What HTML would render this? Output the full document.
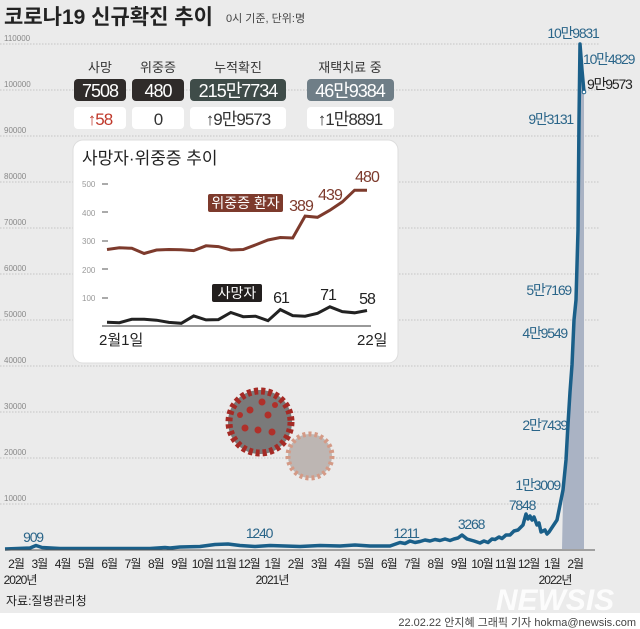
<!DOCTYPE html>
<html><head><meta charset="utf-8"><style>
body{margin:0;width:640px;height:629px;overflow:hidden;background:#ebebeb;font-family:"Liberation Sans","Noto Sans CJK KR",sans-serif}
svg{display:block}
</style></head><body>
<svg width="640" height="629" viewBox="0 0 640 629" font-family="Liberation Sans, Noto Sans CJK KR, sans-serif">
<rect width="640" height="629" fill="#ebebeb"/>
<rect y="613" width="640" height="16" fill="#fff"/>
<g stroke="#b8b8b8" stroke-dasharray="1.5,1.5" stroke-width="0.8">
<line x1="0" x2="600" y1="44" y2="44"/><line x1="0" x2="600" y1="90" y2="90"/><line x1="0" x2="600" y1="136" y2="136"/>
<line x1="0" x2="600" y1="182" y2="182"/><line x1="0" x2="600" y1="228" y2="228"/><line x1="0" x2="600" y1="274" y2="274"/>
<line x1="0" x2="600" y1="320" y2="320"/><line x1="0" x2="600" y1="366" y2="366"/><line x1="0" x2="600" y1="412" y2="412"/>
<line x1="0" x2="600" y1="458" y2="458"/><line x1="0" x2="600" y1="504" y2="504"/>
</g>
<g font-size="8" fill="#888">
<text x="4" y="41">110000</text><text x="4" y="87">100000</text><text x="4" y="133">90000</text><text x="4" y="179">80000</text>
<text x="4" y="225">70000</text><text x="4" y="271">60000</text><text x="4" y="317">50000</text><text x="4" y="363">40000</text>
<text x="4" y="409">30000</text><text x="4" y="455">20000</text><text x="4" y="501">10000</text>
</g>
<text x="4" y="24" font-size="21" font-weight="bold" fill="#222">코로나19 신규확진 추이</text>
<text x="226" y="22" font-size="11" fill="#444">0시 기준, 단위:명</text>
<g font-size="13" fill="#333" text-anchor="middle">
<text x="100" y="72">사망</text><text x="158" y="72">위중증</text><text x="238" y="72">누적확진</text><text x="350" y="72">재택치료 중</text>
</g>
<rect x="74" y="79" width="52" height="22" rx="4" fill="#2f2b2a"/>
<rect x="132" y="79" width="52" height="22" rx="4" fill="#2f2b2a"/>
<rect x="190" y="79" width="96" height="22" rx="4" fill="#3f4c49"/>
<rect x="307" y="79" width="87" height="22" rx="4" fill="#6f7e87"/>
<rect x="74" y="107" width="52" height="22" rx="4" fill="#fff"/>
<rect x="132" y="107" width="52" height="22" rx="4" fill="#fff"/>
<rect x="190" y="107" width="96" height="22" rx="4" fill="#fff"/>
<rect x="307" y="107" width="87" height="22" rx="4" fill="#fff"/>
<g font-size="18" fill="#fff" text-anchor="middle" letter-spacing="-1">
<text x="100" y="97">7508</text><text x="158" y="97">480</text><text x="238" y="97">215만7734</text><text x="350" y="97">46만9384</text>
</g>
<g font-size="17" text-anchor="middle" letter-spacing="-1">
<text x="100" y="125" fill="#c0392b">↑58</text><text x="158" y="125" fill="#333">0</text><text x="238" y="125" fill="#333">↑9만9573</text><text x="350" y="125" fill="#333">↑1만8891</text>
</g>
<rect x="73" y="140" width="325" height="223" rx="10" fill="#fff" stroke="#ddd"/>
<text x="82" y="164" font-size="17" fill="#222">사망자·위중증 추이</text>
<g font-size="8" fill="#999"><text x="82" y="187">500</text><text x="82" y="216">400</text><text x="82" y="244">300</text><text x="82" y="273">200</text><text x="82" y="301">100</text></g>
<g stroke="#555" stroke-width="1"><line x1="102" x2="108" y1="184" y2="184"/><line x1="102" x2="108" y1="212" y2="212"/><line x1="102" x2="108" y1="241" y2="241"/><line x1="102" x2="108" y1="269" y2="269"/><line x1="102" x2="108" y1="298" y2="298"/></g>
<line x1="102" x2="371" y1="326" y2="326" stroke="#333" stroke-width="1"/>
<polyline fill="none" stroke="#7d3a2c" stroke-width="3" points="107,249.5 119.4,247.8 131.8,248.3 144.1,253.5 156.5,250 168.9,249.5 181.3,249.8 193.7,250.6 206,245.8 218.4,246.6 230.8,250 243.2,249.5 255.6,244.9 268,240 280.3,237.5 292.7,238 305.1,216.1 317.5,217.3 329.9,210.2 342.3,201.9 354.6,190.2 367,190.2"/>
<polyline fill="none" stroke="#222" stroke-width="3" points="107,322.2 119.4,322.7 131.8,319.3 144.1,319.3 156.5,320.2 168.9,322.4 181.3,323.3 193.7,315.9 206,319.9 218.4,319.6 230.8,312.5 243.2,316.7 255.6,316.2 268,320.7 280.3,309.6 292.7,315.6 305.1,316.2 317.5,313.3 329.9,306.8 342.3,311.6 354.6,312.8 367,310.5"/>
<rect x="208" y="194" width="75" height="18" rx="2" fill="#7d3a2c"/>
<text x="245.5" y="208" font-size="14" fill="#fff" text-anchor="middle">위중증 환자</text>
<rect x="212" y="284" width="50" height="18" rx="2" fill="#231f1e"/>
<text x="237" y="298" font-size="14" fill="#fff" text-anchor="middle">사망자</text>
<g font-size="16" fill="#7d3a2c" text-anchor="middle" letter-spacing="-1"><text x="301" y="211">389</text><text x="330" y="200">439</text><text x="367" y="182">480</text></g>
<g font-size="16" fill="#222" text-anchor="middle" letter-spacing="-1"><text x="281" y="303">61</text><text x="328" y="300">71</text><text x="367" y="304">58</text></g>
<text x="99" y="345" font-size="15" fill="#222">2월1일</text>
<text x="357" y="345" font-size="15" fill="#222">22일</text>
<circle cx="260" cy="422" r="32" fill="#7a7a7a"/>
<circle cx="260" cy="422" r="31" fill="none" stroke="#a52a25" stroke-width="7" stroke-dasharray="4,3"/>
<g fill="#b0302a"><circle cx="250" cy="410" r="3.5"/><circle cx="268" cy="415" r="3.5"/><circle cx="258" cy="430" r="3.5"/><circle cx="245" cy="428" r="3.5"/><circle cx="272" cy="432" r="3.5"/><circle cx="262" cy="402" r="3.5"/><circle cx="240" cy="415" r="3"/><circle cx="275" cy="405" r="3"/></g>
<circle cx="310" cy="456" r="22" fill="#bdb6b3"/>
<circle cx="310" cy="456" r="22" fill="none" stroke="#d49a86" stroke-width="5" stroke-dasharray="3,3"/>
<path d="M562,549 L563,500 L566,460 L568,424 L570,392 L572,365 L574,320 L576,300 L578,230 L579,120 L580,44 L582,70 L584,92 L584,549 Z" fill="#aab3c4"/>
<polyline fill="none" stroke="#1a5f89" stroke-width="3.5" stroke-linejoin="round" points="5,549 30,548 36,545.5 42,547.5 60,548.5 100,548.5 150,548.5 165,547.5 170,548 180,547 200,546.5 215,544.5 228,544 240,545.5 255,546.5 270,545.5 300,546.5 320,545.5 340,546 355,545 370,546 390,546 400,542.5 405,543.5 410,541 415,542.5 420,541.5 425,540 430,541 435,539.5 440,540.5 445,539 450,540.5 454,539 458,538 462,535 467,539 474,541 480,543 484,541 488,542.5 492,539 495,539.5 499,537 502,538.5 506,535 510,535 514,531 518,530 521,527 523,525 526,514 528,519 530,516 532,520 534,517 537,525 539,523 541,532 545,530 547,534 549,532 553,526 557,520 560,505 563,490 566,460 568,424 570,392 572,365 574,320 576,300 578,230 579,120 580,44 582,70 584,92"/>
<circle cx="584" cy="92" r="1.8" fill="#fff" stroke="#1a5f89"/>
<line x1="5" x2="595" y1="550" y2="550" stroke="#555" stroke-width="1"/>
<g font-size="14" fill="#2a6589" letter-spacing="-1.2">
<text x="573" y="38" text-anchor="middle">10만9831</text>
<text x="583" y="64">10만4829</text>
<text x="587" y="89" fill="#222">9만9573</text>
<text x="573" y="124" text-anchor="end">9만3131</text>
<text x="571" y="295" text-anchor="end">5만7169</text>
<text x="567" y="338" text-anchor="end">4만9549</text>
<text x="567" y="430" text-anchor="end">2만7439</text>
<text x="560" y="490" text-anchor="end">1만3009</text>
<text x="522" y="510" text-anchor="middle">7848</text>
<text x="471" y="529" text-anchor="middle">3268</text>
<text x="406" y="538" text-anchor="middle">1211</text>
<text x="259" y="538" text-anchor="middle">1240</text>
<text x="33" y="542" text-anchor="middle">909</text>
</g>
<g font-size="12" fill="#222" text-anchor="middle" letter-spacing="-1">
<text x="16" y="568">2월</text><text x="39.3" y="568">3월</text><text x="62.6" y="568">4월</text><text x="85.9" y="568">5월</text><text x="109.2" y="568">6월</text><text x="132.5" y="568">7월</text><text x="155.8" y="568">8월</text><text x="179.1" y="568">9월</text><text x="202.4" y="568">10월</text><text x="225.7" y="568">11월</text><text x="249" y="568">12월</text><text x="272.3" y="568">1월</text><text x="295.6" y="568">2월</text><text x="318.9" y="568">3월</text><text x="342.2" y="568">4월</text><text x="365.5" y="568">5월</text><text x="388.8" y="568">6월</text><text x="412.1" y="568">7월</text><text x="435.4" y="568">8월</text><text x="458.7" y="568">9월</text><text x="482" y="568">10월</text><text x="505.3" y="568">11월</text><text x="528.6" y="568">12월</text><text x="551.9" y="568">1월</text><text x="575.2" y="568">2월</text>
<text x="20" y="584">2020년</text><text x="272" y="584">2021년</text><text x="555" y="584">2022년</text>
</g>
<text x="6" y="605" font-size="12" fill="#222">자료:질병관리청</text>
<text x="555" y="610" font-size="30" font-weight="bold" font-style="italic" fill="#fff" fill-opacity="0.85" text-anchor="middle">NEWSIS</text>
<text x="636" y="626" font-size="11" fill="#444" text-anchor="end">22.02.22 안지혜 그래픽 기자 hokma@newsis.com</text>
</svg>
</body></html>
